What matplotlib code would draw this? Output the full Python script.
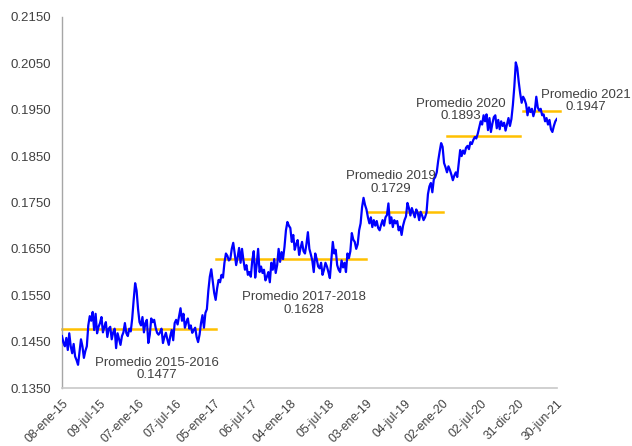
import matplotlib.pyplot as plt
import numpy as np

# weekly values, grouped by year blocks (first point 08-ene-15)
y2015 = [0.1462, 0.1448, 0.1440, 0.1458, 0.1432, 0.1468, 0.1440, 0.1425, 0.1445, 0.1418, 0.1410, 0.1400, 0.1428,
         0.1455, 0.1440, 0.1415, 0.1430, 0.1440, 0.1485, 0.1505, 0.1495, 0.1514, 0.1475, 0.1510, 0.1468, 0.1482,
         0.1490, 0.1503, 0.1470, 0.1482, 0.1492, 0.1460, 0.1478, 0.1482, 0.1455, 0.1470, 0.1478, 0.1436, 0.1468,
         0.1455, 0.1443, 0.1462, 0.1470, 0.1490, 0.1468, 0.1462, 0.1478, 0.1472, 0.1500, 0.1540, 0.1576, 0.1560]
y2016 = [0.1520, 0.1492, 0.1485, 0.1503, 0.1470, 0.1490, 0.1497, 0.1447, 0.1465, 0.1500, 0.1492, 0.1497, 0.1480,
         0.1469, 0.1465, 0.1470, 0.1478, 0.1447, 0.1460, 0.1469, 0.1455, 0.1443, 0.1462, 0.1475, 0.1453, 0.1490,
         0.1497, 0.1487, 0.1505, 0.1522, 0.1495, 0.1510, 0.1480, 0.1492, 0.1500, 0.1478, 0.1485, 0.1469, 0.1475,
         0.1480, 0.1460, 0.1449, 0.1465, 0.1490, 0.1507, 0.1480, 0.1512, 0.1520, 0.1560, 0.1590, 0.1606, 0.1580]
y2017 = [0.1555, 0.1540, 0.1565, 0.1583, 0.1578, 0.1594, 0.1588, 0.1620, 0.1640, 0.1635, 0.1625, 0.1628, 0.1650,
         0.1663, 0.1640, 0.1615, 0.1632, 0.1652, 0.1620, 0.1650, 0.1625, 0.1605, 0.1615, 0.1594, 0.1600, 0.1590,
         0.1625, 0.1645, 0.1588, 0.1615, 0.1650, 0.1600, 0.1612, 0.1598, 0.1605, 0.1582, 0.1590, 0.1600, 0.1578,
         0.1620, 0.1605, 0.1628, 0.1598, 0.1615, 0.1650, 0.1622, 0.1643, 0.1628, 0.1654, 0.1690, 0.1708, 0.1700]
y2018 = [0.1695, 0.1665, 0.1680, 0.1648, 0.1660, 0.1669, 0.1637, 0.1652, 0.1665, 0.1645, 0.1640, 0.1660, 0.1686,
         0.1650, 0.1638, 0.1625, 0.1600, 0.1640, 0.1628, 0.1612, 0.1608, 0.1620, 0.1594, 0.1605, 0.1620, 0.1612,
         0.1600, 0.1587, 0.1625, 0.1665, 0.1640, 0.1648, 0.1615, 0.1605, 0.1600, 0.1625, 0.1610, 0.1620, 0.1600,
         0.1640, 0.1630, 0.1645, 0.1684, 0.1670, 0.1665, 0.1650, 0.1660, 0.1690, 0.1705, 0.1740, 0.1760, 0.1745]
y2019 = [0.1735, 0.1718, 0.1705, 0.1718, 0.1697, 0.1712, 0.1700, 0.1710, 0.1695, 0.1690, 0.1702, 0.1712, 0.1700,
         0.1718, 0.1723, 0.1748, 0.1705, 0.1718, 0.1697, 0.1712, 0.1705, 0.1710, 0.1690, 0.1698, 0.1680, 0.1700,
         0.1712, 0.1720, 0.1749, 0.1738, 0.1722, 0.1738, 0.1728, 0.1718, 0.1735, 0.1728, 0.1712, 0.1730, 0.1722,
         0.1712, 0.1718, 0.1728, 0.1768, 0.1785, 0.1792, 0.1772, 0.1800, 0.1805, 0.1815, 0.1840, 0.1860, 0.1878]
y2020 = [0.1870, 0.1835, 0.1826, 0.1815, 0.1828, 0.1820, 0.1810, 0.1798, 0.1808, 0.1815, 0.1805, 0.1835, 0.1863,
         0.1850, 0.1862, 0.1855, 0.1868, 0.1872, 0.1865, 0.1880, 0.1876, 0.1885, 0.1891, 0.1888, 0.1898, 0.1912,
         0.1925, 0.1918, 0.1938, 0.1925, 0.1940, 0.1906, 0.1932, 0.1902, 0.1920, 0.1934, 0.1938, 0.1910, 0.1928,
         0.1908, 0.1925, 0.1915, 0.1922, 0.1905, 0.1918, 0.1932, 0.1915, 0.1930, 0.1960, 0.2000, 0.2052, 0.2040]
y2021 = [0.2010, 0.1985, 0.1965, 0.1978, 0.1972, 0.1962, 0.1938, 0.1955, 0.1945, 0.1952, 0.1936, 0.1948, 0.1978,
         0.1955, 0.1948, 0.1952, 0.1938, 0.1940, 0.1925, 0.1932, 0.1918, 0.1928, 0.1908, 0.1902, 0.1915, 0.1925,
         0.1930]

tick_labels = ["08-ene-15", "09-jul-15", "07-ene-16", "07-jul-16", "05-ene-17", "06-jul-17", "04-ene-18",
               "05-jul-18", "03-ene-19", "04-jul-19", "02-ene-20", "02-jul-20", "31-dic-20", "30-jun-21"]

# period averages and the week index range each one spans
promedio_labels = ["Promedio 2015-2016", "Promedio 2017-2018", "Promedio 2019", "Promedio 2020", "Promedio 2021"]
promedio_values = [0.1477, 0.1628, 0.1729, 0.1893, 0.1947]
promedio_start = [0, 105, 209, 263, 315]
promedio_end = [105, 208, 260, 313, 340]

series = np.array(y2015 + y2016 + y2017 + y2018 + y2019 + y2020 + y2021)
weeks = np.arange(len(series))

plt.rcParams["font.family"] = ["Liberation Sans", "DejaVu Sans"]
text_color = "#404040"

figure = plt.figure(figsize=(6.32, 4.46), dpi=100)
ax = figure.add_axes([0.098, 0.130, 0.783, 0.832])

ax.plot(weeks, series, color="#0000ff", linewidth=1.6, zorder=3)

for start, end, value in zip(promedio_start, promedio_end, promedio_values):
    ax.plot([start, end], [value, value], color="#ffc000", linewidth=1.8, zorder=2, clip_on=False)

# label positions (week index, value) for each average
label_pos = [(65, 0.1391), (165, 0.1532), (224.5, 0.1793), (272.5, 0.1949), (358, 0.1969)]
for (lx, ly), name, value in zip(label_pos, promedio_labels, promedio_values):
    ax.text(lx, ly, f"{name}\n{value:.4f}", ha="center", va="center", fontsize=9.5,
            color=text_color, linespacing=1.05, clip_on=False)

ax.set_xlim(0, len(series) - 1)
ax.set_ylim(0.1350, 0.2150)
ax.set_yticks(np.arange(0.1350, 0.2151, 0.01))
ax.yaxis.set_major_formatter(plt.FormatStrFormatter("%.4f"))
ax.set_xticks(np.arange(0, len(series), 26))
ax.set_xticklabels(tick_labels, rotation=45, ha="right", rotation_mode="anchor")
ax.tick_params(axis="both", length=0, labelcolor=text_color)
ax.tick_params(axis="y", pad=8, labelsize=9.5)
ax.tick_params(axis="x", pad=7, labelsize=8.8)

for side in ["top", "right"]:
    ax.spines[side].set_visible(False)
ax.spines["left"].set_color("#a6a6a6")
ax.spines["bottom"].set_color("#c8c8c8")
ax.spines["left"].set_linewidth(1.0)
ax.spines["bottom"].set_linewidth(1.2)

figure.savefig("out.png", dpi=100)
plt.close(figure)
